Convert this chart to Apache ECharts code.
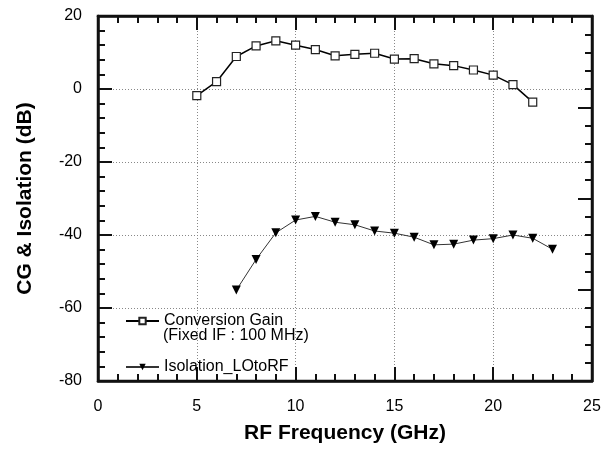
<!DOCTYPE html>
<html>
<head>
<meta charset="utf-8">
<script src="https://cdn.jsdelivr.net/npm/echarts@6/dist/echarts.min.js"></script>
<style>html,body{margin:0;padding:0;background:#fff;}#c{width:613px;height:456px;}</style>
</head>
<body>
<div id="c"></div>
<script>
var cgFreq = [5, 6, 7, 8, 9, 10, 11, 12, 13, 14, 15, 16, 17, 18, 19, 20, 21, 22];
var cgValues = [-1.8, 2.0, 8.9, 11.8, 13.2, 12.0, 10.8, 9.1, 9.5, 9.8, 8.2, 8.3, 6.9, 6.4, 5.2, 3.8, 1.2, -3.6];
var isoFreq = [7, 8, 9, 10, 11, 12, 13, 14, 15, 16, 17, 18, 19, 20, 21, 22, 23];
var isoValues = [-55.1, -46.7, -39.4, -35.9, -34.9, -36.5, -37.2, -38.9, -39.5, -40.6, -42.7, -42.5, -41.4, -41.0, -40.0, -40.9, -43.9];
var seriesNames = ['Conversion Gain', 'Isolation_LOtoRF'];
var legendNote = '(Fixed IF : 100 MHz)';
var xTitle = 'RF Frequency (GHz)';
var yTitle = 'CG & Isolation (dB)';

function pairs(xs, ys) { return xs.map(function (x, i) { return [x, ys[i]]; }); }

var FONT = 'Liberation Sans';
var K = '#111111';
function ax() { return { show: true, onZero: false, lineStyle: { color: K, width: 2.5 } }; }
function tick(len) { return { show: true, inside: true, length: len, lineStyle: { color: K, width: 2 } }; }
function minor() { return { show: true, splitNumber: 5, length: 7, lineStyle: { color: K, width: 2 } }; }
function gridLine() { return { show: true, lineStyle: { color: '#888', type: [1, 2], width: 1 } }; }

var chart = echarts.init(document.getElementById('c'));
chart.setOption({
  animation: false,
  grid: { left: 98, right: 21, top: 16, bottom: 75, outerBoundsMode: 'none',
    show: true, borderColor: K, borderWidth: 2.5, backgroundColor: 'transparent' },
  xAxis: [{
    type: 'value', min: 0, max: 25, interval: 5, position: 'bottom',
    axisLine: ax(), axisTick: tick(14), minorTick: minor(),
    axisLabel: { color: '#000', fontSize: 16, fontFamily: FONT, margin: 18 },
    splitLine: gridLine(),
    name: xTitle, nameLocation: 'middle', nameGap: 42,
    nameTextStyle: { color: '#000', fontSize: 21, fontWeight: 'bold', fontFamily: FONT }
  }, {
    type: 'value', min: 0, max: 25, interval: 5, position: 'top',
    axisLine: ax(), axisTick: tick(14), minorTick: minor(),
    axisLabel: { show: false }, splitLine: { show: false }
  }],
  yAxis: [{
    type: 'value', min: -80, max: 20, interval: 20, position: 'left',
    axisLine: ax(), axisTick: tick(14), minorTick: minor(),
    axisLabel: { color: '#000', fontSize: 16, fontFamily: FONT, margin: 16 },
    splitLine: gridLine(),
    name: yTitle, nameLocation: 'middle', nameGap: 62,
    nameTextStyle: { color: '#000', fontSize: 21, fontWeight: 'bold', fontFamily: FONT }
  }, {
    type: 'value', min: -80, max: 20, interval: 25, position: 'right',
    axisLine: ax(), axisTick: tick(14), minorTick: minor(),
    axisLabel: { show: false }, splitLine: { show: false }
  }],
  legend: {
    orient: 'vertical', left: 125, top: 313, padding: 0, itemWidth: 33, itemHeight: 8, itemGap: 30,
    textStyle: { color: '#000', fontSize: 16, fontFamily: FONT },
    data: seriesNames
  },
  graphic: [{
    type: 'text', left: 163, top: 328,
    style: { text: legendNote, fill: '#000', font: '16px "Liberation Sans"' }
  }],
  series: [{
    name: seriesNames[0], type: 'line', data: pairs(cgFreq, cgValues),
    symbol: 'rect', symbolSize: 8,
    itemStyle: { color: '#fff', borderColor: '#222', borderWidth: 1.2 },
    lineStyle: { color: '#000', width: 1.5 }
  }, {
    name: seriesNames[1], type: 'line', data: pairs(isoFreq, isoValues),
    symbol: 'triangle', symbolRotate: 180, symbolSize: 9,
    itemStyle: { color: '#000', borderColor: '#000', borderWidth: 0 },
    lineStyle: { color: '#333', width: 1 }
  }]
});
</script>
</body>
</html>
